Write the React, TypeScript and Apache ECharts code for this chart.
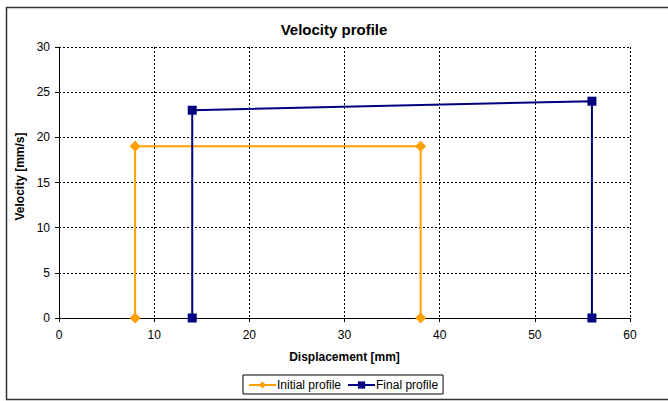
import React, { useEffect, useRef } from "react";
import * as echarts from "echarts";

const initialX = [8, 8, 38, 38];
const initialY = [0, 19, 19, 0];
const finalX = [14, 14, 56, 56];
const finalY = [0, 23, 24, 0];
const seriesNames = ["Initial profile", "Final profile"];
const titleText = "Velocity profile";
const xName = "Displacement [mm]";
const yName = "Velocity [mm/s]";

export default function App() {
  const ref = useRef<HTMLDivElement>(null);
  useEffect(() => {
    document.body.style.margin = "0";
    const chart = echarts.init(ref.current!, null, { renderer: "svg" });
    const font = "'Liberation Sans', Arial, sans-serif";
    const gridLine = { show: true, lineStyle: { color: "#000", type: [2, 2] as any, width: 1 } };
    chart.setOption({
      animation: false,
      backgroundColor: "#fff",
      textStyle: { fontFamily: font },
      title: {
        text: titleText,
        left: "center",
        top: 22,
        padding: 0,
        textStyle: { fontSize: 15, fontWeight: "bold", color: "#000", fontFamily: font },
      },
      graphic: [
        {
          type: "rect",
          shape: { x: 6.5, y: 7.5, width: 670, height: 392 },
          style: { fill: "none", stroke: "#333", lineWidth: 1.5 },
          silent: true,
        },
      ],
      legend: {
        left: 243,
        top: 375,
        borderColor: "#000",
        borderWidth: 1,
        borderRadius: 0,
        padding: [4, 5, 3, 5],
        itemWidth: 27,
        itemHeight: 9,
        itemGap: 6,
        textStyle: { fontSize: 12, color: "#000", fontFamily: font, padding: [0, 0, 0, -4] },
        data: seriesNames,
      },
      grid: { left: 59, top: 47, right: 38, bottom: 83, containLabel: false },
      xAxis: {
        type: "value",
        min: 0,
        max: 60,
        interval: 10,
        name: xName,
        nameLocation: "middle",
        nameGap: 33,
        nameTextStyle: { fontSize: 12, fontWeight: "bold", color: "#000", fontFamily: font },
        axisLine: { onZero: false, lineStyle: { color: "#000", width: 1 } },
        axisTick: { show: true, length: 4, lineStyle: { color: "#000" } },
        axisLabel: { fontSize: 12, color: "#000", margin: 11, fontFamily: font },
        splitLine: gridLine,
      },
      yAxis: {
        type: "value",
        min: 0,
        max: 30,
        interval: 5,
        name: yName,
        nameLocation: "middle",
        nameGap: 30,
        nameTextStyle: { fontSize: 12, fontWeight: "bold", color: "#000", fontFamily: font, padding: [0, 0, 0, 12] },
        axisLine: { show: true, onZero: false, lineStyle: { color: "#000", width: 1 } },
        axisTick: { show: true, length: 4, lineStyle: { color: "#000" } },
        axisLabel: { fontSize: 12, color: "#000", margin: 9, fontFamily: font },
        splitLine: gridLine,
      },
      series: [
        {
          name: seriesNames[0],
          type: "line",
          data: initialX.map((x, i) => [x, initialY[i]]),
          symbol: "diamond",
          symbolSize: 11,
          color: "#FF9F00",
          lineStyle: { width: 2, color: "#FF9F00" },
          itemStyle: { color: "#FF9F00" },
          z: 3,
        },
        {
          name: seriesNames[1],
          type: "line",
          data: finalX.map((x, i) => [x, finalY[i]]),
          symbol: "rect",
          symbolSize: 9,
          color: "#000080",
          lineStyle: { width: 2, color: "#000080" },
          itemStyle: { color: "#000080" },
          z: 4,
        },
      ],
    });
    return () => chart.dispose();
  }, []);
  return <div ref={ref} style={{ width: 668, height: 401, position: "absolute", left: 0, top: 0 }} />;
}
